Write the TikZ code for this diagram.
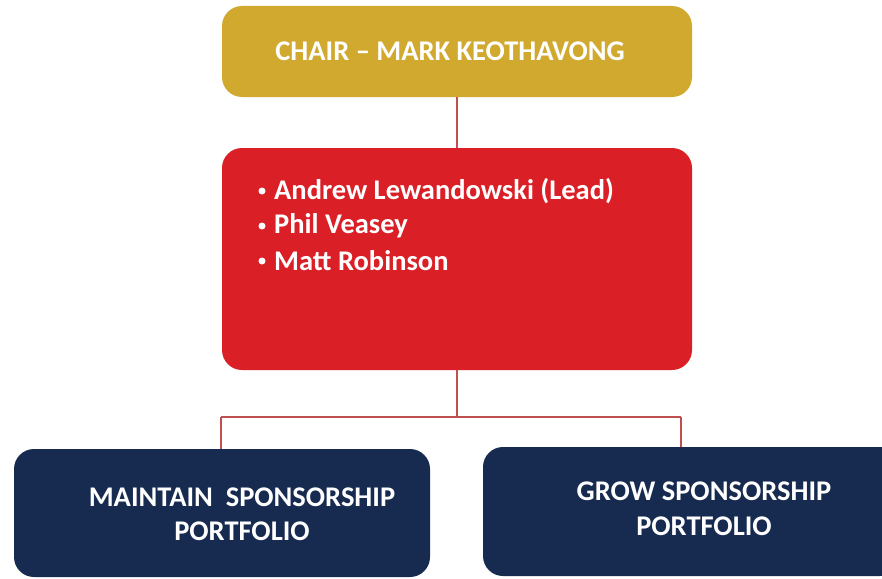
\documentclass[tikz,border=0pt]{standalone}
\usepackage{fontspec}
\setmainfont{Carlito}
\definecolor{gold}{HTML}{D1A92F}
\definecolor{redbox}{HTML}{DA1F26}
\definecolor{navy}{HTML}{172A50}
\definecolor{conn}{HTML}{C0504D}
\begin{document}
\begin{tikzpicture}[x=1pt,y=-1pt,
  box/.style={rectangle, rounded corners=20pt, inner sep=0pt},
  lbl/.style={text=white, font=\fontsize{28.5}{34.5}\selectfont\bfseries, inner sep=0pt, align=center},
  dot/.style={circle, fill=white, inner sep=0pt, minimum size=7pt},
  conline/.style={draw=conn, line width=1.5pt}]
\useasboundingbox (0,0) rectangle (882,578);
\begin{scope}
\clip (0,0) rectangle (882,578);
\node[box, fill=gold, minimum width=470pt, minimum height=91pt] (chair) at (457,51.5) {};
\node[box, fill=redbox, minimum width=470pt, minimum height=222pt] (team) at (457,259) {};
\node[box, fill=navy, minimum width=416pt, minimum height=128pt] (maint) at (222,513) {};
\node[box, fill=navy, minimum width=417pt, minimum height=129pt] (grow) at (691.5,511.5) {};
\end{scope}
\node[lbl] (chairtxt) at (450,51) {CHAIR – MARK KEOTHAVONG};
\node[dot] (d1) at (262,191) {};
\node[dot] (d2) at (262,226) {};
\node[dot] (d3) at (262,261) {};
\node[lbl, anchor=west] (b1) at (274,191) {Andrew Lewandowski (Lead)};
\node[lbl, anchor=west] (b2) at (274,226) {Phil Veasey};
\node[lbl, anchor=west] (b3) at (274,261) {Matt Robinson};
\node[lbl] (mainttxt) at (242,514) {MAINTAIN\ \ SPONSORSHIP\\PORTFOLIO};
\node[lbl] (growtxt) at (704,508.5) {GROW SPONSORSHIP\\PORTFOLIO};
\coordinate (jl) at (221,417);
\coordinate (jr) at (681,417);
\draw[conline] (chair.south) -- (team.north);
\draw[conline] (team.south) -- (team.south |- jl);
\draw[conline] (jl) -- (jr);
\draw[conline] (jl) -- (jl |- maint.north);
\draw[conline] (jr) -- (jr |- grow.north);
\end{tikzpicture}
\end{document}
